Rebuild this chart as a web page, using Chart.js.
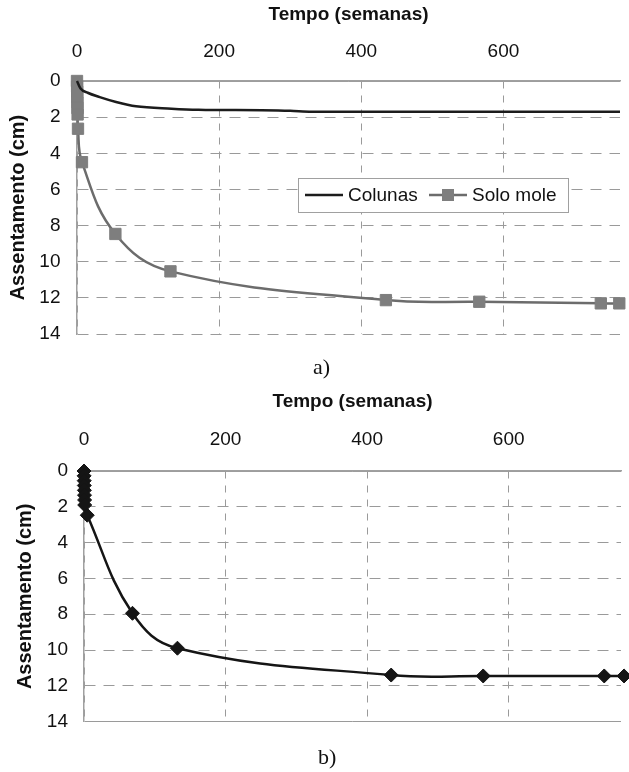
<!DOCTYPE html>
<html>
<head>
<meta charset="utf-8">
<script src="https://cdn.jsdelivr.net/npm/chart.js@4.4.0/dist/chart.umd.min.js"></script>
<style>
  body { margin: 0; background: #fff; }
  #page { position: relative; width: 629px; height: 772px; overflow: hidden; }
  canvas { position: absolute; left: 0; }
  .cap { position: absolute; font-family: "Liberation Serif", serif; font-size: 22px; line-height: 22px; color: #111; }
</style>
</head>
<body>
<div id="page">
  <canvas id="chartA" width="629" height="362" style="top:0"></canvas>
  <canvas id="chartB" width="629" height="369" style="top:380px"></canvas>
  <div class="cap" style="left:313px; top:356px">a)</div>
  <div class="cap" style="left:318px; top:746px">b)</div>
</div>
<script>
// tick labels
const xTicks = [0, 200, 400, 600];
const yTicks = [0, 2, 4, 6, 8, 10, 12, 14];

// a) Colunas (no markers)
const colunasWeeks = [0, 5, 15, 32, 55, 83, 133, 171, 260, 300, 330, 450, 600, 764];
const colunasCm    = [0, 0.42, 0.65, 0.89, 1.16, 1.40, 1.53, 1.59, 1.62, 1.65, 1.70, 1.70, 1.70, 1.70];

// a) Solo mole (square markers)
const soloWeeks = [0, 0.14, 0.29, 0.43, 0.57, 0.71, 0.86, 1.4, 7, 54, 131.5, 434.6, 566, 737, 763];
const soloCm    = [0, 0.3, 0.6, 0.9, 1.2, 1.5, 1.85, 2.64, 4.49, 8.46, 10.53, 12.12, 12.21, 12.3, 12.3];

// b) single series (diamond markers)
const bWeeks = [0, 0.14, 0.29, 0.43, 0.57, 0.71, 0.86, 1.0, 4.6, 68.5, 132, 434, 564, 735, 763];
const bCm    = [0, 0.27, 0.54, 0.81, 1.08, 1.35, 1.62, 1.9, 2.47, 7.95, 9.9, 11.4, 11.45, 11.45, 11.45];

const pts = (xs, ys) => xs.map((x, i) => ({ x: x, y: ys[i] }));

const FONT = '"Liberation Sans", Arial, sans-serif';

// legend drawn inside the plot, like the original
const legendBox = {
  id: 'legendBox',
  afterDraw(chart, args, opts) {
    if (!opts.show) return;
    const ctx = chart.ctx;
    const x = 298, y = 178, w = 270, h = 34;
    const my = y + h / 2;
    ctx.save();
    ctx.fillStyle = '#fff';
    ctx.fillRect(x, y, w, h);
    ctx.strokeStyle = '#a0a0a0';
    ctx.lineWidth = 1;
    ctx.strokeRect(x + 0.5, y + 0.5, w, h);
    ctx.font = '19px ' + FONT;
    ctx.textBaseline = 'middle';
    ctx.fillStyle = '#111';
    const ds = chart.data.datasets;
    // Colunas
    ctx.strokeStyle = ds[0].borderColor;
    ctx.lineWidth = 2.5;
    ctx.beginPath(); ctx.moveTo(x + 7, my); ctx.lineTo(x + 45, my); ctx.stroke();
    ctx.fillText(ds[0].label, x + 50, my + 1);
    // Solo mole
    ctx.strokeStyle = ds[1].borderColor;
    ctx.beginPath(); ctx.moveTo(x + 131, my); ctx.lineTo(x + 169, my); ctx.stroke();
    ctx.fillStyle = ds[1].pointBackgroundColor;
    ctx.fillRect(x + 150 - 6, my - 6, 12, 12);
    ctx.fillStyle = '#111';
    ctx.fillText(ds[1].label, x + 174, my + 1);
    ctx.restore();
  }
};

function makeChart(id, datasets, g) {
  return new Chart(document.getElementById(id), {
    type: 'line',
    data: { datasets: datasets },
    plugins: [legendBox],
    options: {
      responsive: false,
      animation: false,
      layout: { padding: 0 },
      plugins: {
        legend: { display: false },
        tooltip: { enabled: false },
        legendBox: { show: g.legend }
      },
      scales: {
        x: {
          type: 'linear',
          position: 'top',
          min: 0,
          max: g.xMax,
          afterBuildTicks: s => { s.ticks = xTicks.map(v => ({ value: v })); },
          afterFit: s => { s.height = g.xHeight; },
          ticks: {
            color: '#111',
            padding: g.xTickPad,
            font: { family: FONT, size: 19 }
          },
          grid: { color: '#9a9a9a', lineWidth: 1, drawTicks: false },
          border: { display: true, color: '#a0a0a0', width: 1.5, dash: [7, 7] },
          title: {
            display: true,
            text: 'Tempo (semanas)',
            color: '#111',
            padding: { top: g.xTitlePad, bottom: 0 },
            font: { family: FONT, size: 19, weight: 'bold' }
          }
        },
        y: {
          type: 'linear',
          reverse: true,
          min: 0,
          max: 14,
          afterBuildTicks: s => { s.ticks = yTicks.map(v => ({ value: v })); },
          afterFit: s => { s.width = g.yWidth; },
          ticks: {
            color: '#111',
            padding: g.yTickPad,
            font: { family: FONT, size: 19 }
          },
          grid: { color: '#9a9a9a', lineWidth: 1, drawTicks: false },
          border: {
            display: true, color: '#a0a0a0', width: 1.5,
            dash: c => (c.tick && g.solidY.includes(c.tick.value)) ? [] : [11, 8]
          },
          title: {
            display: true,
            text: 'Assentamento (cm)',
            color: '#111',
            padding: { top: g.yTitlePad, bottom: 0 },
            font: { family: FONT, size: 20, weight: 'bold' }
          }
        }
      }
    }
  });
}

makeChart('chartA', [
  {
    label: 'Colunas',
    data: pts(colunasWeeks, colunasCm),
    borderColor: '#1c1c1c',
    borderWidth: 2.5,
    pointRadius: 0,
    cubicInterpolationMode: 'monotone',
    clip: false
  },
  {
    label: 'Solo mole',
    data: pts(soloWeeks, soloCm),
    borderColor: '#6c6c6c',
    borderWidth: 2.5,
    tension: 0.4,
    pointStyle: 'rect',
    pointRadius: 8,
    pointBackgroundColor: '#7e7e7e',
    pointBorderColor: '#7e7e7e',
    pointBorderWidth: 1,
    clip: false
  }
], {
  xMax: 764, xHeight: 81, xTickPad: 17.6, xTitlePad: 3.6,
  yWidth: 77, yTickPad: 16.5, yTitlePad: 6,
  solidY: [0], legend: true
});

makeChart('chartB', [
  {
    label: 'Assentamento',
    data: pts(bWeeks, bCm),
    borderColor: '#151515',
    borderWidth: 2.5,
    tension: 0.4,
    pointStyle: 'rectRot',
    pointRadius: 7,
    pointBackgroundColor: '#151515',
    pointBorderColor: '#151515',
    pointBorderWidth: 1,
    clip: false
  }
], {
  xMax: 758.7, xHeight: 91, xTickPad: 19.6, xTitlePad: 10.6,
  yWidth: 84, yTickPad: 16, yTitlePad: 13,
  solidY: [0, 14], legend: false
});
</script>
</body>
</html>
